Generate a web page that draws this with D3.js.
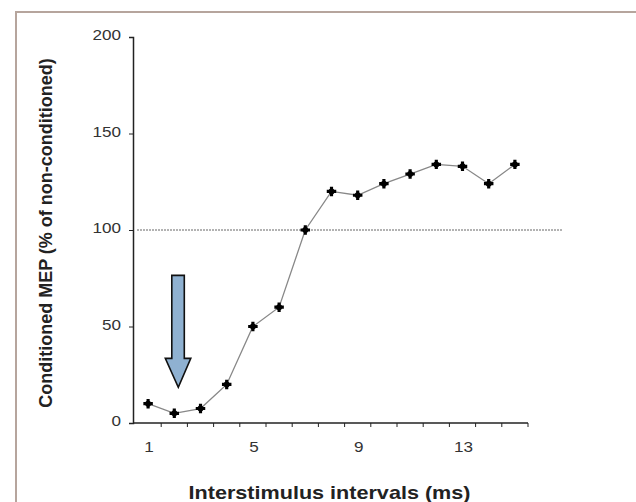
<!DOCTYPE html>
<html>
<head>
<meta charset="utf-8">
<script src="https://cdn.jsdelivr.net/npm/d3@7"></script>
<style>
  body { margin: 0; background: #fff; }
  svg { display: block; }
</style>
</head>
<body>
<svg id="chart"></svg>
<script>
// intervals in ms (category axis)
const ISI = [1, 2, 3, 4, 5, 6, 7, 8, 9, 10, 11, 12, 13, 14, 15];
// conditioned MEP, % of non-conditioned
const MEP = [10, 5, 7.5, 20, 50, 60, 100, 120, 118, 124, 129, 134, 133, 124, 134];
const X_LABELS = [1, 5, 9, 13];
const Y_TICKS = [0, 50, 100, 150, 200];
const BASELINE = 100;

const WIDTH = 636;
const HEIGHT = 502;
const FONT = "Liberation Sans, Arial, sans-serif";
const STRETCH = 1.14; // the original figure is a bit wider than tall

let svg = d3.select("#chart")
    .attr("width", WIDTH)
    .attr("height", HEIGHT);

// frame round the figure
svg.append("rect")
    .attr("x", 16)
    .attr("y", 12)
    .attr("width", 700)
    .attr("height", 600)
    .style("fill", "none")
    .style("stroke", "#b6a59d")
    .style("stroke-width", 2);

let xScale = d3.scaleBand()
    .domain(ISI)
    .range([135, 528]);

let yScale = d3.scaleLinear()
    .domain([0, 200])
    .range([423, 37]);

let cx = function(d){ return xScale(d) + xScale.bandwidth() / 2; };

// y axis
let yAxis = svg.append("g")
    .attr("transform", "translate(133,0)")
    .call(d3.axisLeft(yScale).tickValues(Y_TICKS).tickSize(4).tickFormat(""));
yAxis.select(".domain").attr("stroke", "#222").attr("stroke-width", 1.5);
yAxis.selectAll(".tick line").attr("stroke", "#222");

svg.selectAll("text.ylab")
    .data(Y_TICKS)
    .enter()
    .append("text")
    .attr("class", "ylab")
    .text(function(d){ return d; })
    .attr("transform", function(d){
        return "translate(121," + (yScale(d) + 3) + ") scale(" + STRETCH + ",1)";
    })
    .attr("font-family", FONT)
    .attr("font-size", "15px")
    .attr("fill", "#333")
    .style("text-anchor", "end");

// x axis: ticks at the category boundaries, labels on every 4th category
let xAxis = svg.append("g")
    .attr("transform", "translate(0,423)");
xAxis.append("line")
    .attr("x1", 133).attr("x2", 528)
    .attr("stroke", "#222").attr("stroke-width", 1.5);
xAxis.selectAll("line.tk")
    .data(ISI)
    .enter()
    .append("line")
    .attr("class", "tk")
    .attr("x1", function(d){ return xScale(d) + xScale.bandwidth(); })
    .attr("x2", function(d){ return xScale(d) + xScale.bandwidth(); })
    .attr("y1", 0).attr("y2", 4)
    .attr("stroke", "#222");
xAxis.selectAll("text")
    .data(X_LABELS)
    .enter()
    .append("text")
    .text(function(d){ return d; })
    .attr("transform", function(d){
        return "translate(" + (cx(d) + 1) + ",29) scale(" + STRETCH + ",1)";
    })
    .attr("font-family", FONT)
    .attr("font-size", "15px")
    .attr("fill", "#333")
    .style("text-anchor", "middle");

// baseline at 100 %
svg.append("line")
    .attr("x1", 137).attr("x2", 562)
    .attr("y1", yScale(BASELINE)).attr("y2", yScale(BASELINE))
    .attr("stroke", "#666")
    .attr("stroke-width", 1)
    .attr("stroke-dasharray", "2,1");

// the curve
let line = d3.line()
    .x(function(d, i){ return cx(ISI[i]); })
    .y(function(d){ return yScale(d); });

svg.append("path")
    .datum(MEP)
    .attr("d", line)
    .style("fill", "none")
    .style("stroke", "#888")
    .style("stroke-width", 1.3);

let pts = svg.selectAll("g.pt")
    .data(MEP)
    .enter()
    .append("g")
    .attr("class", "pt")
    .attr("transform", function(d, i){
        return "translate(" + cx(ISI[i]) + "," + yScale(d) + ")";
    });
pts.append("path")
    .attr("d", d3.symbol().type(d3.symbolCross).size(50))
    .style("fill", "#000");
pts.append("circle")
    .attr("r", 3)
    .style("fill", "#000");

// arrow pointing at the 2 ms minimum
let ax = cx(2) + 4;
let aTop = yScale(76.5), aNeck = yScale(33.5), aTip = yScale(18.5);
svg.append("path")
    .attr("d", [
        "M", ax - 6.5, aTop,
        "L", ax + 6, aTop,
        "L", ax + 6, aNeck,
        "L", ax + 12.5, aNeck,
        "L", ax, aTip,
        "L", ax - 13, aNeck,
        "L", ax - 6.5, aNeck,
        "Z"].join(" "))
    .style("fill", "#8fb1d1")
    .style("stroke", "#111")
    .style("stroke-width", 1.6)
    .style("stroke-linejoin", "miter");

// axis titles
svg.append("text")
    .text("Conditioned MEP (% of non-conditioned)")
    .attr("transform", "translate(52,233) rotate(-90)")
    .attr("font-family", FONT)
    .attr("font-size", "18px")
    .attr("font-weight", "bold")
    .attr("fill", "#222")
    .style("text-anchor", "middle");

svg.append("text")
    .text("Interstimulus intervals (ms)")
    .attr("transform", "translate(329.5,499) scale(1.2,1)")
    .attr("font-family", FONT)
    .attr("font-size", "18px")
    .attr("font-weight", "bold")
    .attr("fill", "#222")
    .style("text-anchor", "middle");
</script>
</body>
</html>
